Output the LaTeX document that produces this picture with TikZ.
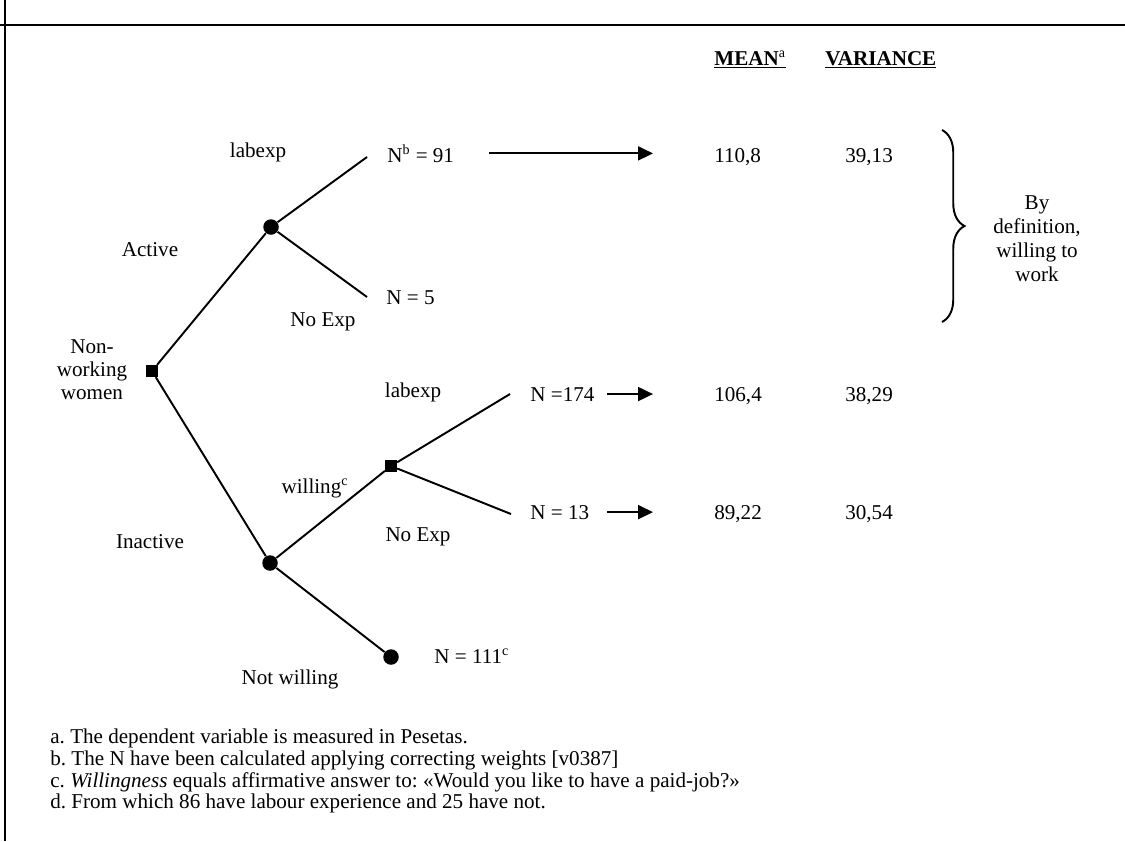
\documentclass[tikz,border=0pt]{standalone}
\usepackage{fontspec}
\setmainfont{Liberation Serif}
\usetikzlibrary{arrows.meta,positioning,decorations.pathreplacing}
\frenchspacing
\tikzset{
  dotnode/.style ={circle, fill=black, inner sep=0pt, minimum size=0.31cm},
  sqnode/.style  ={rectangle, fill=black, inner sep=0pt, minimum size=0.23cm},
  treeline/.style={line width=1.1pt},
  outarr/.style  ={-{Triangle[length=3mm,width=2.8mm]}, line width=1.1pt},
  cnt/.style     ={anchor=base west},
  hdr/.style     ={anchor=base west, font=\fontsize{12}{14}\selectfont\bfseries},
  note/.style    ={anchor=base west},
}

\begin{document}
\begin{tikzpicture}[x=1cm,y=1cm,every node/.style={font=\fontsize{12}{14}\selectfont,inner sep=0pt}]
    \useasboundingbox (0,0) rectangle (22.5,-16.82);
    % frame
    \draw[line width=1.2pt] (0,-0.50) -- (22.5,-0.50);
    \draw[line width=1.2pt] (0.10,0) -- (0.10,-16.82);

    % Headers
    \node[hdr] (mean) at (14.28,-1.30) {\underline{MEAN\textsuperscript{\mdseries a}}};
    \node[hdr] (var)  at (16.50,-1.30) {\underline{VARIANCE}};

    % Tree nodes
    \node[sqnode]  (root)  at (3.04,-7.42) {};
    \node[dotnode] (act)   at (5.42,-4.54) {};
    \node[dotnode] (inact) at (5.40,-11.26) {};
    \node[sqnode]  (wil)   at (7.82,-9.32) {};
    \node[dotnode] (nwil)  at (7.82,-13.14) {};

    \coordinate (e91)  at (7.34,-3.14);
    \coordinate (e5)   at (7.34,-5.94);
    \coordinate (e174) at (10.20,-7.88);
    \coordinate (e13)  at (10.22,-10.28);

    \draw[treeline] (root) -- (act);
    \draw[treeline] (root) -- (inact);
    \draw[treeline] (act) -- (e91);
    \draw[treeline] (act) -- (e5);
    \draw[treeline] (inact) -- (wil);
    \draw[treeline] (inact) -- (nwil);
    \draw[treeline] (wil) -- (e174);
    \draw[treeline] (wil) -- (e13);

    % Branch labels
    \node[align=center,font=\fontsize{12}{13}\selectfont] (nww) at (1.84,-7.40)
      {Non-\\working\\women};
    \node (lactive)  at (3.00,-5.00)  {Active};
    \node (linact)   at (3.00,-10.84) {Inactive};
    \node (lexp1)    at (5.16,-3.04)  {labexp};
    \node (lnoexp1)  at (6.46,-6.44)  {No Exp};
    \node (lwil)     at (6.30,-9.76)  {willing\textsuperscript{c}};
    \node (lexp2)    at (8.26,-7.84)  {labexp};
    \node (lnoexp2)  at (8.36,-10.74) {No Exp};
    \node (lnwil)    at (5.80,-13.58) {Not willing};

    % Counts
    \node[cnt] (n91)  at (7.74,-3.24)  {N\textsuperscript{b} = 91};
    \node[cnt] (n5)   at (7.72,-6.08)  {N = 5};
    \node[cnt] (n174) at (10.60,-8.02) {N =174};
    \node[cnt] (n13)  at (10.60,-10.38) {N = 13};
    \node[cnt] (n111) at (8.68,-13.26) {N = 111\textsuperscript{c}};

    % Values
    \node[cnt] (v1) at (14.28,-3.24)  {110,8};
    \node[cnt] (v2) at (16.90,-3.24)  {39,13};
    \node[cnt] (v3) at (14.28,-8.02)  {106,4};
    \node[cnt] (v4) at (16.90,-8.02)  {38,29};
    \node[cnt] (v5) at (14.28,-10.38) {89,22};
    \node[cnt] (v6) at (16.90,-10.38) {30,54};

    \draw[outarr,shorten <=0.70cm,shorten >=1.22cm] (n91.east) -- (n91.east -| v1.west);
    \draw[outarr,shorten <=0.24cm,shorten >=1.22cm] (n174.east) -- (n174.east -| v3.west);
    \draw[outarr,shorten <=0.36cm,shorten >=1.22cm] (n13.east) -- (n13.east -| v5.west);

    % Brace
    \draw[line width=1.1pt,decorate,decoration={brace,amplitude=0.45cm}]
      (18.84,-2.60) -- (18.84,-6.44);
    \node[align=center,font=\fontsize{12}{13.6}\selectfont] (bydef) at (20.74,-4.77)
      {By\\definition,\\willing to\\work};

    % Footnotes
    \node[note] (fn1) at (1.00,-14.86) {a. The dependent variable is measured in Pesetas.};
    \node[note] (fn2) at (1.00,-15.30) {b. The N have been calculated applying correcting weights [v0387]};
    \node[note] (fn3) at (1.00,-15.74) {c. \textit{Willingness} equals affirmative answer to: «Would you like to have a paid-job?»};
    \node[note] (fn4) at (1.00,-16.16) {d. From which 86 have labour experience and 25 have not.};
\end{tikzpicture}
\end{document}
